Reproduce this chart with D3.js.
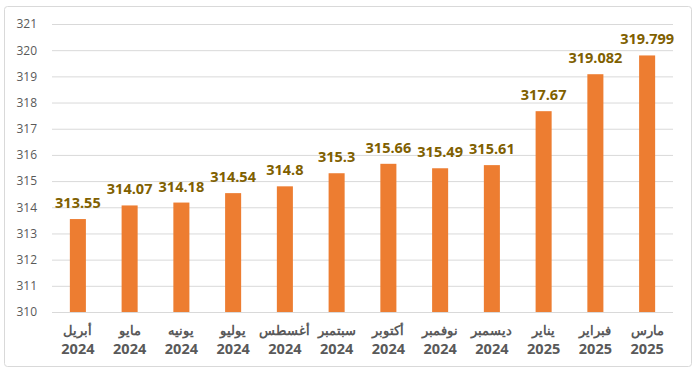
<!DOCTYPE html>
<html>
<head>
<meta charset="utf-8">
<script src="https://cdn.jsdelivr.net/npm/d3@7"></script>
<style>
  body { margin: 0; background: #fff; }
</style>
</head>
<body>
<div id="chart"></div>
<script>
// monthly values, April 2024 - March 2025
var months = ["أبريل", "مايو", "يونيه", "يوليو", "أغسطس", "سبتمبر", "أكتوبر", "نوفمبر", "ديسمبر", "يناير", "فبراير", "مارس"];
var years = ["2024", "2024", "2024", "2024", "2024", "2024", "2024", "2024", "2024", "2025", "2025", "2025"];
var values = [313.55, 314.07, 314.18, 314.54, 314.8, 315.3, 315.66, 315.49, 315.61, 317.67, 319.082, 319.799];
var valueLabels = ["313.55", "314.07", "314.18", "314.54", "314.8", "315.3", "315.66", "315.49", "315.61", "317.67", "319.082", "319.799"];
var yTicks = [310, 311, 312, 313, 314, 315, 316, 317, 318, 319, 320, 321];

var W = 700, H = 370;
var margin = {top: 24, right: 27, bottom: 58, left: 52},
    width = W - margin.left - margin.right,
    height = H - margin.top - margin.bottom;

var svg = d3.select("#chart").append("svg")
    .attr("width", W)
    .attr("height", H);

// chart border
svg.append("rect")
    .attr("x", 4.5).attr("y", 6.5)
    .attr("width", 687).attr("height", 360)
    .attr("rx", 3)
    .attr("fill", "#fff")
    .attr("stroke", "#D9D9D9");

var g = svg.append("g")
    .attr("transform", "translate(" + margin.left + "," + margin.top + ")");

var x = d3.scaleBand()
    .domain(d3.range(months.length))
    .range([0, width])
    .paddingInner(0.69)
    .paddingOuter(0.345);

var y = d3.scaleLinear()
    .domain([310, 321])
    .range([height, 0]);

// gridlines + y labels
var yAxis = g.append("g")
    .call(d3.axisLeft(y).tickValues(yTicks).tickSize(-width).tickFormat(d3.format("d")).tickPadding(15));
yAxis.select(".domain").remove();
yAxis.selectAll(".tick line").attr("stroke", "#D9D9D9").attr("stroke-width", 1);
yAxis.selectAll(".tick text")
    .attr("fill", "#595959")
    .style("font-family", "'Open Sans', sans-serif")
    .style("font-size", "12px");

// bars
g.selectAll(".bar")
    .data(values)
    .enter().append("rect")
    .attr("class", "bar")
    .attr("x", function (d, i) { return x(i); })
    .attr("width", x.bandwidth())
    .attr("y", function (d) { return y(d); })
    .attr("height", function (d) { return height - y(d); })
    .attr("fill", "#ED7D31");

// value labels
g.selectAll(".val")
    .data(values)
    .enter().append("text")
    .attr("class", "val")
    .attr("x", function (d, i) { return x(i) + x.bandwidth() / 2; })
    .attr("y", function (d) { return y(d) - 11; })
    .attr("text-anchor", "middle")
    .attr("fill", "#7F6000")
    .style("font-family", "'Open Sans', sans-serif")
    .style("font-weight", "bold")
    .style("font-size", "14.5px")
    .text(function (d, i) { return valueLabels[i]; });

// x category labels (month + year)
var xl = g.selectAll(".xl")
    .data(months)
    .enter().append("g")
    .attr("transform", function (d, i) {
        return "translate(" + (x(i) + x.bandwidth() / 2) + "," + height + ")";
    });
xl.append("text")
    .attr("y", 23)
    .attr("text-anchor", "middle")
    .attr("fill", "#595959")
    .style("font-family", "'Noto Sans', sans-serif")
    .style("font-weight", "bold")
    .style("font-size", "12.5px")
    .text(function (d) { return d; });
xl.append("text")
    .attr("y", 42)
    .attr("text-anchor", "middle")
    .attr("fill", "#595959")
    .style("font-family", "'Open Sans', sans-serif")
    .style("font-weight", "bold")
    .style("font-size", "14.5px")
    .text(function (d, i) { return years[i]; });
</script>
</body>
</html>
